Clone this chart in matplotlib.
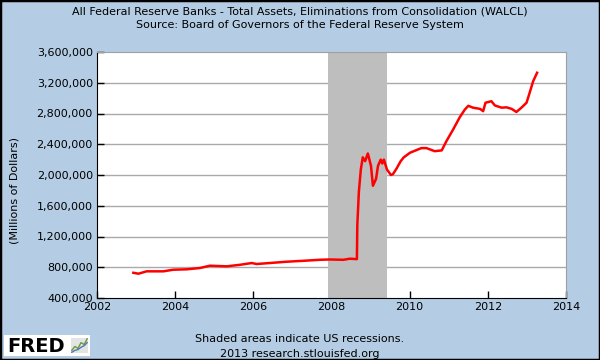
import matplotlib
matplotlib.use("Agg")
import matplotlib.pyplot as plt
from matplotlib.patches import Rectangle
from matplotlib.ticker import FuncFormatter

# weekly series (year, thousands of millions of dollars)
years = [2002.93, 2003.06, 2003.27, 2003.70, 2003.95, 2004.29, 2004.63, 2004.89,
         2005.32, 2005.66, 2005.96, 2006.08, 2006.42, 2006.85, 2007.28, 2007.70,
         2007.96, 2008.30, 2008.47, 2008.65, 2008.66, 2008.70, 2008.75, 2008.80,
         2008.86, 2008.93, 2009.01, 2009.06, 2009.14, 2009.19, 2009.26, 2009.30,
         2009.34, 2009.42, 2009.52, 2009.57, 2009.66, 2009.77, 2009.85, 2010.01,
         2010.30, 2010.43, 2010.64, 2010.82, 2010.94, 2011.11, 2011.28, 2011.41,
         2011.50, 2011.62, 2011.80, 2011.88, 2011.94, 2012.09, 2012.18, 2012.35,
         2012.48, 2012.61, 2012.73, 2012.86, 2012.99, 2013.07, 2013.16, 2013.26]
walcl_k = [728, 716, 747, 747, 768, 773, 790, 820,
           812, 832, 855, 842, 855, 872, 884, 897,
           901, 897, 911, 906, 1340, 1780, 2070, 2230,
           2180, 2280, 2120, 1860, 1950, 2120, 2200, 2150,
           2200, 2070, 2000, 2010, 2080, 2180, 2230, 2290,
           2350, 2350, 2310, 2320, 2440, 2590, 2750, 2850,
           2900, 2876, 2860, 2830, 2940, 2960, 2905, 2876,
           2880, 2860, 2820, 2876, 2940, 3070, 3220, 3330]

recession = (2007.917, 2009.417)
yticks = [400000, 800000, 1200000, 1600000, 2000000, 2400000, 2800000, 3200000, 3600000]
xticks = [2002, 2004, 2006, 2008, 2010, 2012, 2014]

bg = "#b4cde4"
walcl = [v * 1000 for v in walcl_k]

plt.rcParams['font.family'] = ['DejaVu Sans']
fig = plt.figure(figsize=(6, 3.6), dpi=100, facecolor=bg)
ax = fig.add_axes([97/600, 1-298/360, (566-97)/600, (298-52)/360])
ax.set_facecolor("white")

for t in yticks[1:-1]:
    ax.axhline(t, color="#aaaaaa", lw=1, zorder=1)
ax.axvspan(recession[0], recession[1], color="#bebebe", lw=0, zorder=2)
ax.plot(years, walcl, color="red", lw=1.8, zorder=3)

ax.set_xlim(2002, 2014)
ax.set_ylim(400000, 3600000)
ax.set_xticks(xticks)
ax.set_yticks(yticks)
ax.yaxis.set_major_formatter(FuncFormatter(lambda v, p: "{:,.0f}".format(v)))
ax.tick_params(direction="in", length=5, width=1, labelsize=8, color="black", pad=3)
for s in ["left", "bottom"]:
    ax.spines[s].set_color("black")
for s in ["top", "right"]:
    ax.spines[s].set_color("#a0a0a0")

fig.text(0.5, 1-12/360, "All Federal Reserve Banks - Total Assets, Eliminations from Consolidation (WALCL)",
         ha="center", va="center", fontsize=8)
fig.text(0.5, 1-25/360, "Source: Board of Governors of the Federal Reserve System",
         ha="center", va="center", fontsize=8)
fig.text(15/600, 1-190/360, "(Millions of Dollars)", rotation=90, ha="center", va="center", fontsize=8)
fig.text(0.5, 1-339/360, "Shaded areas indicate US recessions.", ha="center", va="center", fontsize=8)
fig.text(0.5, 1-354/360, "2013 research.stlouisfed.org", ha="center", va="center", fontsize=8)

# FRED logo box
logo = Rectangle((4/600, 4/360), 86/600, 21/360, transform=fig.transFigure,
                 facecolor="white", edgecolor="none", zorder=-1)
fig.patches.append(logo)
fig.text(7/600, 1-346/360, "FRED", ha="left", va="center", fontsize=14, fontweight="bold")
ic = fig.add_axes([71/600, 1-353/360, 17/600, 15/360], zorder=5)
ic.set_facecolor("#e4e4e4")
ic.plot([0, 1, 2, 3, 4, 5], [1, 2, 1.5, 3, 2.5, 4], color="#6b9a3a", lw=1)
ic.plot([0, 1, 2, 3, 4, 5], [0.5, 1, 1.2, 1.8, 2.2, 3], color="#4a7ab5", lw=1)
ic.set_xticks([])
ic.set_yticks([])
for s in ic.spines.values():
    s.set_visible(False)

# outer black frame
fig.patches.append(Rectangle((0, 0), 1, 1, transform=fig.transFigure,
                             facecolor="none", edgecolor="black", lw=2.5, zorder=10))

fig.savefig("out.png", dpi=100, facecolor=bg)
